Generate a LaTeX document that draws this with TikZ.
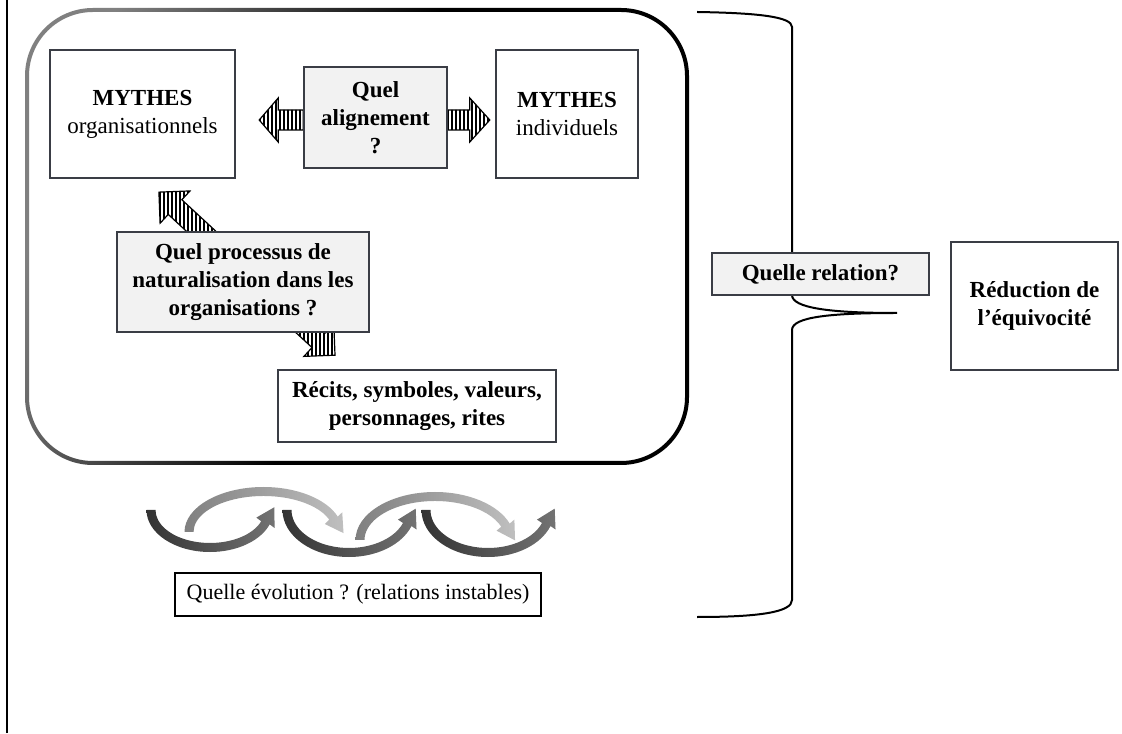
\documentclass[tikz,border=0pt]{standalone}
\usepackage{fontspec}
\setmainfont{Liberation Serif}
\usetikzlibrary{calc,patterns.meta,backgrounds}
\definecolor{boxgray}{HTML}{F2F2F2}
\definecolor{boxline}{HTML}{3A3D45}
\tikzset{
  box/.style={draw=boxline, line width=0.8pt, fill=white, align=center, inner sep=0pt, font=\fontsize{11.5}{14}\selectfont},
  bbox/.style={box, font=\fontsize{11.5}{14}\selectfont\bfseries},
  qbox/.style={bbox, fill=boxgray},
  hatch/.style={draw=black, line width=0.6pt, pattern={Lines[angle=90,distance=2pt,line width=0.75pt]}},
  brace/.style={line width=1pt},
  ushade/.style={left color=black!80, right color=black!55},
  ashade/.style={left color=black!50, right color=black!25}
}
% curved arrow: style, centre x, centre y, rx, ry, start angle, end angle, sense (1 or -1)
\newcommand{\evolarrow}[8]{%
  \shade[#1] ($(#2,#3)+(#6:{#4+4.5} and {#5+4.5})$)
    arc[start angle=#6, end angle=#7, x radius=#4+4.5, y radius=#5+4.5]
    -- ($(#2,#3)+(#7:#4 and #5)+({atan2((#8)*#5*cos(#7),-(#8)*#4*sin(#7))-(#8)*90}:10.5)$)
    -- ($(#2,#3)+(#7:#4 and #5)+({atan2((#8)*#5*cos(#7),-(#8)*#4*sin(#7))}:18)$)
    -- ($(#2,#3)+(#7:#4 and #5)+({atan2((#8)*#5*cos(#7),-(#8)*#4*sin(#7))+(#8)*90}:10.5)$)
    -- ($(#2,#3)+(#7:{#4-4.5} and {#5-4.5})$)
    arc[start angle=#7, end angle=#6, x radius=#4-4.5, y radius=#5-4.5]
    -- cycle;}
\begin{document}
\begin{tikzpicture}[x=0.5pt,y=0.5pt]
\useasboundingbox (0,0) rectangle (1122,733);
\draw[line width=1pt] (7,0) -- (7,733);

\node[box, minimum width=92.5pt, minimum height=64pt] (morg) at (142.5,619) {\textbf{MYTHES}\\organisationnels};
\node[qbox, minimum width=71.5pt, minimum height=50.5pt] (qal) at (375.5,615.5) {Quel\\alignement\\?};
\node[box, minimum width=71pt, minimum height=64pt] (mind) at (567,619) {\textbf{MYTHES}\\individuels};
\node[qbox, minimum width=126pt, minimum height=50pt] (qproc) at (243,451) {Quel processus de\\naturalisation dans les\\organisations ?};
\node[bbox, minimum width=139pt, minimum height=36pt] (recits) at (417,327) {Récits, symboles, valeurs,\\personnages, rites};
\node[box, draw=black, font=\fontsize{11}{14}\selectfont, minimum width=183pt, minimum height=21.5pt] (evol) at (358,138.5) {Quelle évolution ? (relations instables)};
\node[qbox, minimum width=108.5pt, minimum height=21pt] (qrel) at (820.5,459) {Quelle relation?};
\node[bbox, minimum width=83.5pt, minimum height=64pt] (reduc) at (1034.5,427) {Réduction de\\l’équivocité};

\coordinate (dtop) at ($(morg.south)+(16.5,-15)$);
\coordinate (dbot) at ($(recits.north)+(-82,14)$);

\begin{scope}[on background layer]
% frame
\shade[even odd rule, top color=black!50, bottom color=black, middle color=black, shading angle=70]
  (25,268) [rounded corners=34pt] rectangle (689,725)
  (29,272) [rounded corners=32pt] rectangle (685,721);
% striped arrows
\draw[hatch] ($(qal.west)+(0,7.5)$) -- ++(-25,0) -- ++(0,12) -- ++(-19,-22) -- ++(19,-22) -- ++(0,12) -- ++(25,0) -- cycle;
\draw[hatch] ($(qal.east)+(0,7.5)$) -- ++(22,0) -- ++(0,12) -- ++(20,-22) -- ++(-20,-22) -- ++(0,12) -- ++(-22,0) -- cycle;
\draw[hatch, shift={(dbot)}, rotate=137.2] (0,0) -- (22,22) -- (22,10) -- (218,10) -- (218,22) -- (240,0)
  -- (218,-22) -- (218,-10) -- (22,-10) -- (22,-22) -- cycle;
% brace
\draw[brace] (697,721) .. controls (760,720) and (792,716) .. (792,706) -- (792,438)
  .. controls (792,425) and (830,420) .. (897,420)
  .. controls (830,420) and (792,416) .. (792,403) -- (792,133)
  .. controls (792,121) and (760,116) .. (697,116);
\end{scope}

% evolution arrows
\evolarrow{ashade}{263.5}{201}{74.5}{40.5}{180}{20}{-1}
\evolarrow{ashade}{435}{193}{75}{43.5}{180}{20}{-1}
\evolarrow{ushade}{210}{223}{59}{37.5}{180}{340}{1}
\evolarrow{ushade}{349}{223}{62}{42.5}{180}{340}{1}
\evolarrow{ushade}{488}{223}{62}{42.5}{180}{340}{1}
\end{tikzpicture}
\end{document}
